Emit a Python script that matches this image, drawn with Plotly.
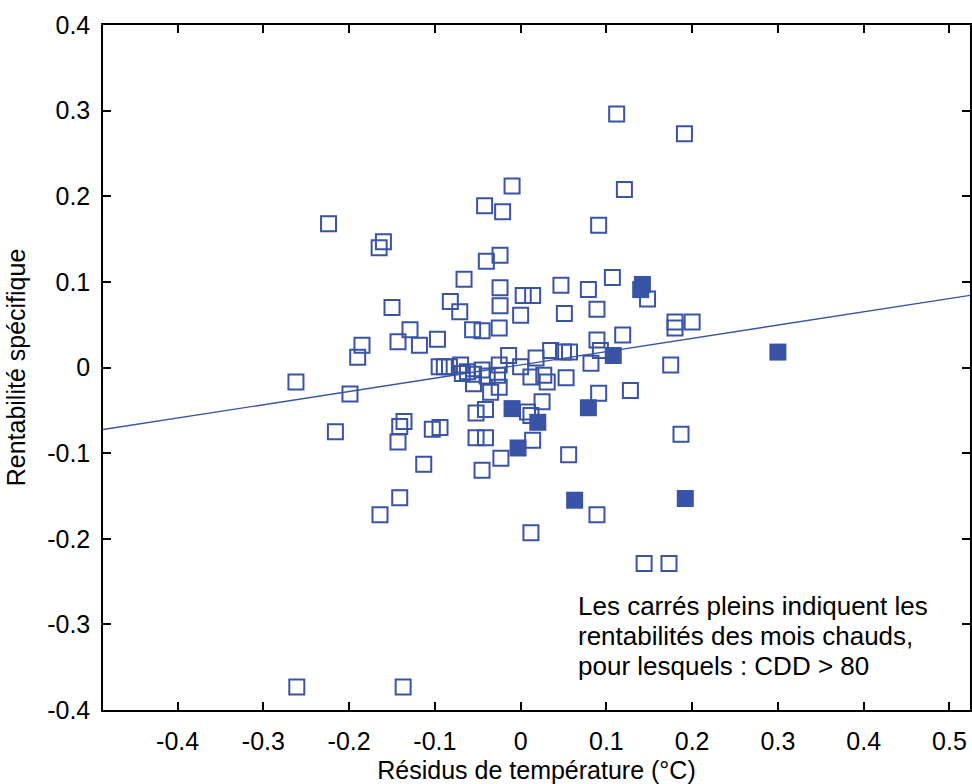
import plotly.graph_objects as go
import numpy as np

# ---- data ----
open_x = [-0.261, -0.137, 0.144, 0.173, 0.112, 0.191, -0.010, 0.121, -0.042, -0.021,
          -0.224, 0.091, -0.160, -0.165, -0.024, -0.040, 0.107, -0.066, 0.047, -0.024,
          0.079, 0.003, 0.014, 0.148, -0.082, -0.024, -0.150, 0.089, -0.071, 0.051,
          0.000, 0.180, 0.180, 0.200, -0.129, -0.025, -0.056, -0.045, 0.119, 0.089,
          -0.097, -0.143, -0.185, -0.118, -0.190, 0.035, 0.050, 0.057, 0.093, -0.014,
          0.018, 0.082, 0.175, -0.095, -0.089, -0.083, -0.070, -0.068, -0.062, -0.055,
          -0.045, -0.039, -0.027, -0.025, 0.000, 0.012, 0.053, 0.031, 0.027, -0.262,
          -0.055, -0.199, -0.035, -0.025, 0.091, 0.128, 0.025, -0.052, -0.041, 0.008,
          0.012, -0.136, -0.141, -0.216, -0.103, -0.094, -0.143, -0.052, -0.041, 0.014,
          0.187, -0.023, 0.056, -0.113, -0.045, -0.141, -0.164, 0.089, 0.012]
open_y = [-0.373, -0.373, -0.229, -0.229, 0.296, 0.273, 0.212, 0.208, 0.189, 0.182,
          0.168, 0.166, 0.147, 0.140, 0.131, 0.124, 0.105, 0.103, 0.096, 0.093,
          0.091, 0.084, 0.084, 0.080, 0.077, 0.072, 0.070, 0.068, 0.065, 0.063,
          0.061, 0.053, 0.046, 0.053, 0.044, 0.046, 0.044, 0.043, 0.038, 0.032,
          0.033, 0.030, 0.026, 0.026, 0.012, 0.020, 0.018, 0.018, 0.020, 0.014,
          0.011, 0.005, 0.003, 0.001, 0.001, 0.001, 0.003, -0.007, -0.005, -0.008,
          -0.003, -0.010, -0.009, 0.003, 0.001, -0.011, -0.012, -0.017, -0.009, -0.017,
          -0.019, -0.031, -0.029, -0.023, -0.030, -0.027, -0.040, -0.053, -0.049, -0.052,
          -0.056, -0.063, -0.069, -0.075, -0.072, -0.070, -0.087, -0.082, -0.082, -0.085,
          -0.078, -0.106, -0.102, -0.113, -0.120, -0.152, -0.172, -0.172, -0.193]

hot_x = [0.142, 0.140, 0.108, 0.300, -0.010, 0.079, 0.020, -0.003, 0.063, 0.192]
hot_y = [0.097, 0.091, 0.014, 0.018, -0.048, -0.047, -0.064, -0.094, -0.155, -0.153]

fit_slope = 0.155
fit_intercept = 0.003

x_range = [-0.487, 0.524]
y_range = [-0.4, 0.4]
x_tick_vals = [-0.4, -0.3, -0.2, -0.1, 0, 0.1, 0.2, 0.3, 0.4, 0.5]
x_tick_text = ["-0.4", "-0.3", "-0.2", "-0.1", "0", "0.1", "0.2", "0.3", "0.4", "0.5"]
y_tick_vals = [-0.4, -0.3, -0.2, -0.1, 0, 0.1, 0.2, 0.3, 0.4]
y_tick_text = ["-0.4", "-0.3", "-0.2", "-0.1", "0", "0.1", "0.2", "0.3", "0.4"]

x_title = "Résidus de température (°C)"
y_title = "Rentabilité spécifique"
note_lines = ["Les carrés pleins indiquent les",
              "rentabilités des mois chauds,",
              "pour lesquels : CDD > 80"]
note_x = 0.065
note_y = [-0.2785, -0.3135, -0.3485]

# ---- styling ----
BLUE = "#3953A6"
FONT = "Liberation Sans, Arial, sans-serif"

fig = go.Figure()

fig.add_trace(go.Scatter(
    x=open_x, y=open_y, mode="markers",
    marker=dict(symbol="square-open", size=15, color=BLUE, line=dict(width=2, color=BLUE)),
    showlegend=False, hoverinfo="skip"))

fig.add_trace(go.Scatter(
    x=hot_x, y=hot_y, mode="markers",
    marker=dict(symbol="square", size=17, color=BLUE, line=dict(width=0)),
    showlegend=False, hoverinfo="skip"))

fit_x = np.array(x_range)
fit_y = fit_intercept + fit_slope * fit_x
fig.add_trace(go.Scatter(
    x=fit_x, y=fit_y, mode="lines",
    line=dict(color=BLUE, width=1.4),
    showlegend=False, hoverinfo="skip"))

for txt, yy in zip(note_lines, note_y):
    fig.add_annotation(x=note_x, y=yy, xref="x", yref="y", text=txt,
                       showarrow=False, xanchor="left", yanchor="middle",
                       font=dict(family=FONT, size=26, color="black"))

axis_common = dict(
    showline=True, linecolor="black", linewidth=1.5, mirror="ticks",
    ticks="inside", ticklen=8, tickwidth=1.5, tickcolor="black",
    showgrid=False, zeroline=False,
    tickfont=dict(family=FONT, size=25, color="black"),
)

fig.update_xaxes(range=x_range, tickvals=x_tick_vals, ticktext=x_tick_text,
                 title=dict(text=x_title, font=dict(family=FONT, size=25, color="black"), standoff=10),
                 ticklabelstandoff=8, **axis_common)
fig.update_yaxes(range=y_range, tickvals=y_tick_vals, ticktext=y_tick_text,
                 title=dict(text=y_title, font=dict(family=FONT, size=25, color="black"), standoff=14),
                 ticklabelstandoff=6, **axis_common)

fig.update_layout(
    width=972, height=784,
    margin=dict(l=103, r=2, t=25, b=74, autoexpand=False),
    paper_bgcolor="white", plot_bgcolor="white",
    font=dict(family=FONT, size=25, color="black"),
)

fig.write_html("out.html",
               config={"displayModeBar": False},
               post_script="document.body.style.margin='0';document.body.style.overflow='hidden';")
